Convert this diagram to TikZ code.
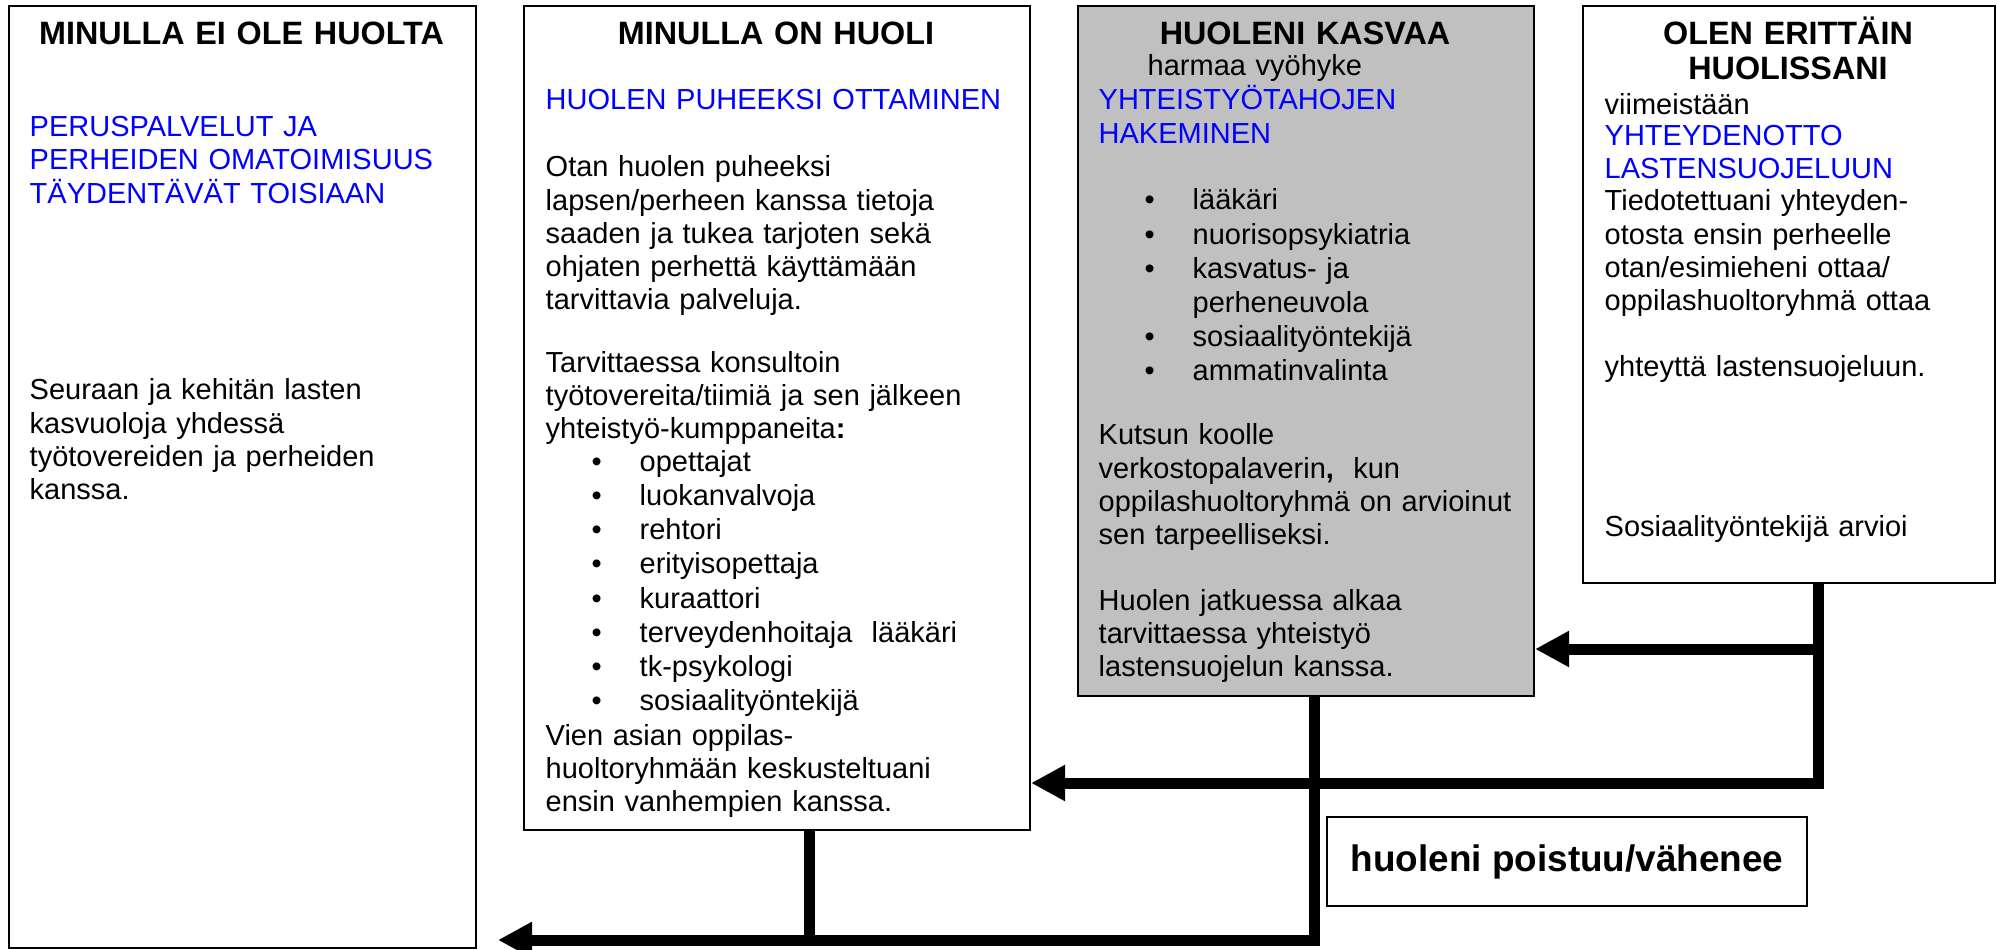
\documentclass[tikz,border=0pt]{standalone}
\usepackage{fontspec}
\setmainfont{Liberation Sans}
\usetikzlibrary{arrows.meta}
\definecolor{harmaa}{RGB}{192,192,192}
\tikzset{
  box/.style={draw, line width=0.6pt, inner sep=0pt, anchor=north west},
  head/.style={font=\fontsize{9.2}{9.9}\selectfont\bfseries, text width=4.3cm, align=center, anchor=base, inner sep=0pt},
  txt/.style={font=\fontsize{8.25}{9.39}\selectfont, text width=4.6cm, align=left, anchor=base west, inner sep=0pt},
  lst/.style={txt, font=\fontsize{8.25}{9.75}\selectfont},
  blu/.style={txt, text=blue},
  flow/.style={line width=0.11cm},
  arr/.style={-{Triangle[length=0.34cm,width=0.34cm]}}
}
\newcommand{\bul}{\makebox[0.48cm][l]{\textbullet}}
\begin{document}
\begin{tikzpicture}
\useasboundingbox (0,0) rectangle (19.97,-9.50);
\node[box, minimum width=4.67cm, minimum height=9.42cm] (ei) at (0.08,-0.05) {};
\node[box, minimum width=5.06cm, minimum height=8.24cm] (on) at (5.23,-0.05) {};
\node[box, fill=harmaa, minimum width=4.56cm, minimum height=6.90cm] (kasvaa) at (10.77,-0.05) {};
\node[box, minimum width=4.12cm, minimum height=5.77cm] (erit) at (15.82,-0.05) {};
\node[box, minimum width=4.80cm, minimum height=0.89cm, font=\fontsize{10.5}{12}\selectfont\bfseries] (poistuu) at (13.26,-8.16) {huoleni poistuu/vähenee};

\node[head] (ots1) at (2.415,-0.45) {MINULLA EI OLE HUOLTA};
\node[blu] (sin1) at (0.29,-1.37) {PERUSPALVELUT JA\\PERHEIDEN OMATOIMISUUS\\TÄYDENTÄVÄT TOISIAAN};
\node[txt] (tek1) at (0.29,-4.00) {Seuraan ja kehitän lasten\\kasvuoloja yhdessä\\työtovereiden ja perheiden\\kanssa.};

\node[head] (ots2) at (7.76,-0.45) {MINULLA ON HUOLI};
\node[blu] (sin2) at (5.45,-1.10) {HUOLEN PUHEEKSI OTTAMINEN};
\node[txt] (tek2) at (5.45,-1.77) {Otan huolen puheeksi\\lapsen/perheen kanssa tietoja\\saaden ja tukea tarjoten sekä\\ohjaten perhettä käyttämään\\tarvittavia palveluja.\\[0.30cm]Tarvittaessa konsultoin\\työtovereita/tiimiä ja sen jälkeen\\yhteistyö-kumppaneita\textbf{:}};
\node[lst] (lis2) at (5.91,-4.71) {\bul opettajat\\\bul luokanvalvoja\\\bul rehtori\\\bul erityisopettaja\\\bul kuraattori\\\bul terveydenhoitaja\ \ lääkäri\\\bul tk-psykologi\\\bul sosiaalityöntekijä};
\node[txt] (tek3) at (5.45,-7.45) {Vien asian oppilas-\\huoltoryhmään keskusteltuani\\ensin vanhempien kanssa.};

\node[head] (ots3) at (13.05,-0.45) {HUOLENI KASVAA};
\node[txt] (har) at (11.47,-0.76) {harmaa vyöhyke};
\node[blu] (sin3) at (10.98,-1.10) {YHTEISTYÖTAHOJEN\\HAKEMINEN};
\node[lst, font=\fontsize{8.25}{9.7}\selectfont] (lis3) at (11.44,-2.10) {\bul lääkäri\\\bul nuorisopsykiatria\\\bul kasvatus- ja\\\hspace*{0.48cm}perheneuvola\\\bul sosiaalityöntekijä\\\bul ammatinvalinta};
\node[txt] (tek4) at (10.98,-4.45) {Kutsun koolle\\verkostopalaverin\textbf{,}\ \ kun\\oppilashuoltoryhmä on arvioinut\\sen tarpeelliseksi.\\[0.33cm]Huolen jatkuessa alkaa\\tarvittaessa yhteistyö\\lastensuojelun kanssa.};

\node[head] (ots4) at (17.88,-0.45) {OLEN ERITTÄIN\\HUOLISSANI};
\node[txt] (tek5) at (16.04,-1.15) {viimeistään};
\node[blu] (sin4) at (16.04,-1.46) {YHTEYDENOTTO\\LASTENSUOJELUUN};
\node[txt] (tek6) at (16.04,-2.11) {Tiedotettuani yhteyden-\\otosta ensin perheelle\\otan/esimieheni ottaa/\\oppilashuoltoryhmä ottaa\\[0.33cm]yhteyttä lastensuojeluun.};
\node[txt] (tek7) at (16.04,-5.36) {Sosiaalityöntekijä arvioi};

\coordinate (j1) at (18.18,-6.49);
\coordinate (j2) at (18.18,-7.83);
\coordinate (j3) at (13.14,-9.40);
\coordinate (j4) at (8.09,-9.40);
\coordinate (tip) at (4.98,-9.40);
\draw[flow, arr] (j1 |- erit.south) -- (j2) -- (j2 -| on.east);
\draw[flow, arr] (j1) -- (j1 -| kasvaa.east);
\draw[flow, arr] (j3 |- kasvaa.south) -- (j3) -- (tip);
\draw[flow] (j4 |- on.south) -- (j4);
\end{tikzpicture}
\end{document}
